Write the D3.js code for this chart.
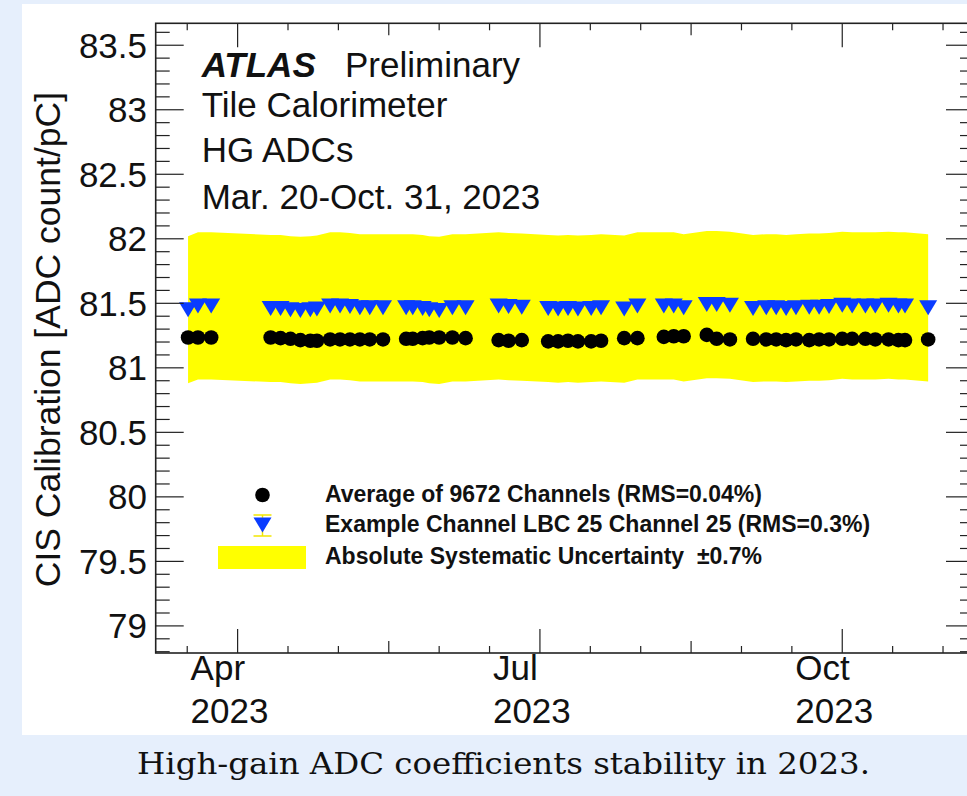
<!DOCTYPE html>
<html>
<head>
<meta charset="utf-8">
<script src="https://cdn.jsdelivr.net/npm/d3@7"></script>
<style>
  html, body { margin: 0; padding: 0; background: #e6effc; }
  svg { display: block; font-family: "Liberation Sans", Arial, Helvetica, sans-serif; }
</style>
</head>
<body>
<div id="chart"></div>
<script>
const dates = [
  "2023-03-17", "2023-03-20", "2023-03-24",
  "2023-04-11", "2023-04-14", "2023-04-17", "2023-04-20", "2023-04-23", "2023-04-25",
  "2023-04-29", "2023-05-02", "2023-05-05", "2023-05-08", "2023-05-11", "2023-05-15",
  "2023-05-22", "2023-05-24", "2023-05-27", "2023-05-29", "2023-06-01", "2023-06-05", "2023-06-09",
  "2023-06-19", "2023-06-22", "2023-06-26",
  "2023-07-04", "2023-07-07", "2023-07-10", "2023-07-13", "2023-07-17", "2023-07-20",
  "2023-07-27", "2023-07-31",
  "2023-08-08", "2023-08-11", "2023-08-14",
  "2023-08-21", "2023-08-24", "2023-08-28",
  "2023-09-04", "2023-09-08", "2023-09-11", "2023-09-14", "2023-09-17", "2023-09-21",
  "2023-09-24", "2023-09-27", "2023-10-01", "2023-10-04", "2023-10-08", "2023-10-11",
  "2023-10-15", "2023-10-18", "2023-10-20",
  "2023-10-27"
];
// average of 9672 channels
const avgValues = [
  81.235, 81.235, 81.235,
  81.235, 81.23, 81.225, 81.215, 81.21, 81.21,
  81.22, 81.22, 81.22, 81.22, 81.22, 81.22,
  81.225, 81.225, 81.23, 81.235, 81.235, 81.235, 81.23,
  81.215, 81.21, 81.215,
  81.205, 81.205, 81.21, 81.205, 81.205, 81.21,
  81.23, 81.23,
  81.24, 81.245, 81.245,
  81.255, 81.225, 81.22,
  81.225, 81.22, 81.22, 81.215, 81.22, 81.215,
  81.22, 81.22, 81.225, 81.225, 81.225, 81.22,
  81.22, 81.215, 81.215,
  81.22
];
// example channel LBC 25 channel 25
const exampleValues = [
  81.45, 81.48, 81.48,
  81.46, 81.46, 81.45, 81.445, 81.45, 81.455,
  81.48, 81.48, 81.475, 81.465, 81.465, 81.465,
  81.465, 81.465, 81.46, 81.45, 81.445, 81.465, 81.465,
  81.48, 81.475, 81.47,
  81.46, 81.455, 81.46, 81.455, 81.46, 81.465,
  81.455, 81.48,
  81.48, 81.48, 81.465,
  81.49, 81.49, 81.485,
  81.46, 81.465, 81.465, 81.46, 81.465, 81.47,
  81.47, 81.475, 81.485, 81.48, 81.48, 81.48,
  81.485, 81.48, 81.48,
  81.465
];
const systematic = 0.007;

const yTickValues = [79, 79.5, 80, 80.5, 81, 81.5, 82, 82.5, 83, 83.5];
const xTickDates = ["2023-04-01", "2023-10-01"];
const xTickLabels = [["Apr", "2023"], ["Jul", "2023"], ["Oct", "2023"]];

const headerLines = ["Tile Calorimeter", "HG ADCs", "Mar. 20-Oct. 31, 2023"];
const legendLabels = [
  "Average of 9672 Channels (RMS=0.04%)",
  "Example Channel LBC 25 Channel 25 (RMS=0.3%)",
  "Absolute Systematic Uncertainty  \u00b10.7%"
];
const yTitle = "CIS Calibration [ADC count/pC]";
const caption = "High-gain ADC coefficients stability in 2023.";

const W = 967, H = 796;
const frame = { left: 155.7, right: 974, top: 23.3, bottom: 653 };

const svg = d3.select("#chart").append("svg")
  .attr("width", W).attr("height", H);

svg.append("rect").attr("width", W).attr("height", H).attr("fill", "#e6effc");
svg.append("rect").attr("x", 22).attr("y", 4).attr("width", W - 22).attr("height", 731)
  .attr("fill", "#fff");

const x = d3.scaleUtc()
  .domain([Date.UTC(2023, 2, 7, 5), Date.UTC(2023, 10, 9, 21)])
  .range([frame.left, frame.right]);
const y = d3.scaleLinear()
  .domain([78.79, 83.67])
  .range([frame.bottom, frame.top]);

const parse = d3.utcParse("%Y-%m-%d");
const points = dates.map((d, i) => ({ t: parse(d), avg: avgValues[i], ex: exampleValues[i] }));

// systematic band around the example channel
const band = d3.area()
  .x(d => x(d.t))
  .y0(d => y(d.ex * (1 - systematic)))
  .y1(d => y(d.ex * (1 + systematic)));
svg.append("path").datum(points).attr("d", band).attr("fill", "#ffff00");

// average points
svg.append("g").selectAll("circle").data(points).join("circle")
  .attr("cx", d => x(d.t)).attr("cy", d => y(d.avg)).attr("r", 7.3)
  .attr("fill", "#000");

// example channel, inverted triangles
const tri = (cx, cy) => `M${cx - 9},${cy - 7.5}L${cx + 9},${cy - 7.5}L${cx},${cy + 7.5}Z`;
svg.append("g").selectAll("path").data(points).join("path")
  .attr("d", d => tri(x(d.t), y(d.ex)))
  .attr("fill", "#0a3cff");

// frame and ticks
const axes = svg.append("g").attr("stroke", "#222");
axes.append("rect")
  .attr("x", frame.left).attr("y", frame.top)
  .attr("width", frame.right - frame.left).attr("height", frame.bottom - frame.top)
  .attr("fill", "none").attr("stroke-width", 1.6);

const yMinor = d3.range(Math.ceil(y.domain()[0] * 10), Math.floor(y.domain()[1] * 10) + 1).map(v => v / 10);
yMinor.forEach(v => {
  const major = yTickValues.some(t => Math.abs(t - v) < 1e-6);
  const len = major ? 28 : 14;
  axes.append("line").attr("x1", frame.left).attr("x2", frame.left + len)
    .attr("y1", y(v)).attr("y2", y(v)).attr("stroke-width", 1.2);
  axes.append("line").attr("x1", frame.right).attr("x2", frame.right - len)
    .attr("y1", y(v)).attr("y2", y(v)).attr("stroke-width", 1.2);
});

svg.append("g").selectAll("text").data(yTickValues).join("text")
  .attr("x", 147).attr("y", d => y(d) + 12.5)
  .attr("text-anchor", "end").attr("font-size", 35).attr("fill", "#111")
  .text(d => d);

// time axis: uniform divisions, 3 months major, 6 sub-steps
const t0 = parse(xTickDates[0]).getTime(), t1 = parse(xTickDates[1]).getTime();
const step = (t1 - t0) / 12;
const [dMin, dMax] = x.domain().map(d => d.getTime());
for (let k = Math.ceil((dMin - t0) / step); t0 + k * step <= dMax; k++) {
  const px = x(new Date(t0 + k * step));
  const len = k % 6 === 0 ? 24 : (k % 3 === 0 ? 12 : 7);
  axes.append("line").attr("x1", px).attr("x2", px)
    .attr("y1", frame.bottom).attr("y2", frame.bottom - len).attr("stroke-width", 1.2);
  axes.append("line").attr("x1", px).attr("x2", px)
    .attr("y1", frame.top).attr("y2", frame.top + len).attr("stroke-width", 1.2);
}
xTickLabels.forEach((lab, i) => {
  const px = x(new Date(t0 + i * 6 * step)) - 47;
  const g = svg.append("text").attr("font-size", 35).attr("fill", "#111");
  g.append("tspan").attr("x", px).attr("y", 680).text(lab[0]);
  g.append("tspan").attr("x", px).attr("y", 723).text(lab[1]);
});

// y title
svg.append("text")
  .attr("transform", "translate(60,92) rotate(-90)")
  .attr("text-anchor", "end").attr("font-size", 35.5).attr("fill", "#111")
  .text(yTitle);

// header
const head = svg.append("g").attr("font-size", 35).attr("fill", "#111");
head.append("text").attr("x", 201.7).attr("y", 77).attr("font-weight", "bold")
  .attr("font-style", "italic").text("ATLAS");
head.append("text").attr("x", 345).attr("y", 77).text("Preliminary");
[117.3, 162.3, 208.5].forEach((yy, i) => {
  head.append("text").attr("x", 201.7).attr("y", yy).text(headerLines[i]);
});

// legend
const leg = svg.append("g");
leg.append("circle").attr("cx", 262.5).attr("cy", 495).attr("r", 7.3).attr("fill", "#000");
leg.append("line").attr("x1", 262.5).attr("x2", 262.5).attr("y1", 515).attr("y2", 536)
  .attr("stroke", "#f2e600").attr("stroke-width", 1.5);
[515, 536].forEach(yy => leg.append("line").attr("x1", 253.5).attr("x2", 271.5)
  .attr("y1", yy).attr("y2", yy).attr("stroke", "#f2e600").attr("stroke-width", 1.5));
leg.append("path").attr("d", tri(262.5, 525)).attr("fill", "#0a3cff");
leg.append("rect").attr("x", 218).attr("y", 546).attr("width", 88).attr("height", 23)
  .attr("fill", "#ffff00");
leg.selectAll("text").data(legendLabels).join("text")
  .attr("x", 325).attr("y", (d, i) => [502, 532, 564][i])
  .attr("font-size", 23).attr("font-weight", "bold").attr("fill", "#111")
  .style("white-space", "pre")
  .text(d => d);

// caption
svg.append("text")
  .attr("x", 503.5).attr("y", 774)
  .attr("text-anchor", "middle")
  .attr("font-family", "Georgia, 'DejaVu Serif', serif")
  .attr("font-size", 29).attr("fill", "#111")
  .attr("textLength", 733).attr("lengthAdjust", "spacingAndGlyphs")
  .text(caption);
</script>
</body>
</html>
